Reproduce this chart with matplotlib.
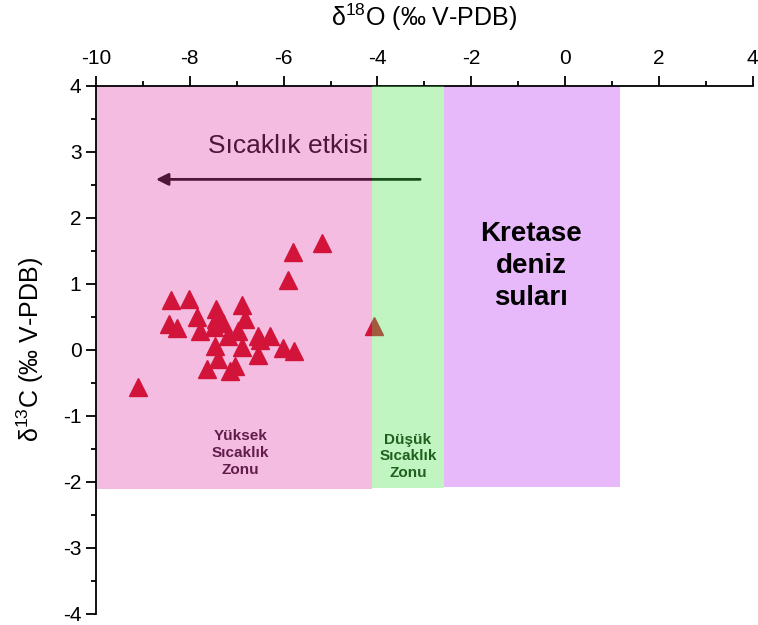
import matplotlib
matplotlib.use("Agg")
import matplotlib.pyplot as plt
from matplotlib.patches import Rectangle
from matplotlib.ticker import MultipleLocator

plt.rcParams["font.family"] = ["Liberation Sans", "DejaVu Sans"]
plt.rcParams["axes.unicode_minus"] = False
plt.rcParams["mathtext.fontset"] = "custom"
plt.rcParams["mathtext.rm"] = "Liberation Sans"
plt.rcParams["mathtext.it"] = "Liberation Sans"

# sample values (d18O, d13C)
d18o = [-5.19, -5.81, -5.90, -8.39, -8.01, -6.89, -7.44, -7.84, -7.44, -6.82,
        -8.44, -8.27, -7.78, -7.48, -7.29, -7.18, -6.97, -6.54, -6.29, -6.89,
        -6.54, -7.46, -6.50, -6.01, -5.78, -7.39, -7.64, -7.14, -7.04, -9.11,
        -4.07]
d13c = [1.62, 1.48, 1.06, 0.75, 0.77, 0.67, 0.61, 0.50, 0.47, 0.47,
        0.39, 0.33, 0.28, 0.35, 0.40, 0.20, 0.28, 0.21, 0.20, 0.04,
        -0.08, 0.05, 0.14, 0.03, -0.02, -0.15, -0.29, -0.33, -0.25, -0.57,
        0.36]

# zone limits on d18O
high_zone = (-10, -4.12)
low_zone = (-4.12, -2.58)
sea_zone = (-2.58, 1.17)
zone_bottom = [-2.12, -2.10, -2.08]

fig = plt.figure(figsize=(7.58, 6.25), dpi=100)
ax = fig.add_axes([0.1266, 0.0184, 0.8664, 0.8445])

ax.set_xlim(-10, 4)
ax.set_ylim(-4, 4)

# purple zone (plain)
ax.add_patch(Rectangle((sea_zone[0], zone_bottom[2]), sea_zone[1] - sea_zone[0],
                       4 - zone_bottom[2], facecolor="#e8b9fa", edgecolor="none", zorder=0))

# arrow + label, sit under the translucent zones
ax.annotate("", xy=(-8.78, 2.58), xytext=(-3.03, 2.58),
            arrowprops=dict(arrowstyle="-|>", color="black", lw=2,
                            mutation_scale=18), zorder=1)
ax.text(-5.91, 3.08, "Sıcaklık etkisi", fontsize=19, ha="center", va="center",
        color="black", zorder=1)
ax.text(-6.92, -1.57, "Yüksek\nSıcaklık\nZonu", fontsize=11, fontweight="bold",
        ha="center", va="center", linespacing=1.25, color="#1a0a18", zorder=1)
ax.text(-3.35, -1.62, "Düşük\nSıcaklık\nZonu", fontsize=11, fontweight="bold",
        ha="center", va="center", linespacing=1.25, color="#0a1a0a", zorder=1)

# pink overlay
ax.add_patch(Rectangle((high_zone[0], zone_bottom[0]), high_zone[1] - high_zone[0],
                       4 - zone_bottom[0], facecolor="#e440a9", alpha=0.35,
                       edgecolor="none", zorder=2))

ax.plot(d18o, d13c, "^", color="#d2143a", markersize=13.5, zorder=3)

# green overlay on top of points
ax.add_patch(Rectangle((low_zone[0], zone_bottom[1]), low_zone[1] - low_zone[0],
                       4 - zone_bottom[1], facecolor="#4be24b", alpha=0.35,
                       edgecolor="none", zorder=4))

ax.text(-0.72, 1.27, "Kretase\ndeniz\nsuları", fontsize=20, fontweight="bold",
        ha="center", va="center", linespacing=1.3, zorder=5)

# axes styling
ax.spines["right"].set_visible(False)
ax.spines["bottom"].set_visible(False)
ax.spines["top"].set_linewidth(1.3)
ax.spines["left"].set_linewidth(1.3)
ax.xaxis.tick_top()
ax.xaxis.set_label_position("top")
ax.xaxis.set_major_locator(MultipleLocator(2))
ax.xaxis.set_minor_locator(MultipleLocator(1))
ax.yaxis.set_major_locator(MultipleLocator(1))
ax.yaxis.set_minor_locator(MultipleLocator(0.5))
ax.tick_params(which="major", direction="out", length=7, width=1.3, labelsize=15)
ax.tick_params(which="minor", direction="out", length=3.5, width=1.3)
ax.tick_params(axis="x", pad=6)

ax.set_xlabel(r"$\mathregular{\delta^{18}}$O (‰ V-PDB)", fontsize=18, labelpad=16)
ax.set_ylabel(r"$\mathregular{\delta^{13}}$C (‰ V-PDB)", fontsize=18, labelpad=12)

fig.savefig("out.png", dpi=100)
